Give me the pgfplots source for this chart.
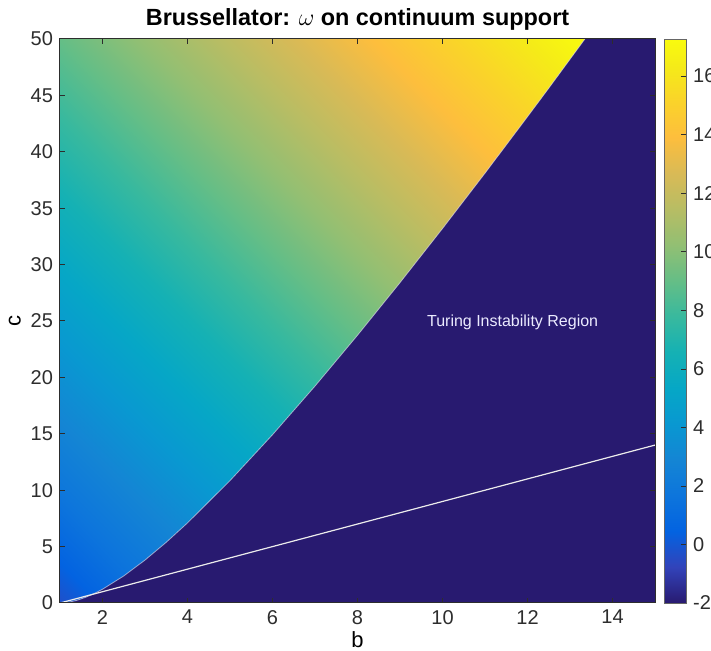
\documentclass[border=0pt]{standalone}
\usepackage{fontspec}
\setmainfont{Liberation Sans}
\usepackage{pgfplots}
\usepackage{pgfplotstable}
\pgfplotsset{compat=1.18}
\definecolor{darkbg}{RGB}{40,26,112}
\definecolor{axgray}{RGB}{45,45,45}

\pgfplotsset{
  colormap={parula}{
    rgb255(0pt)=(40,26,112)
    rgb255(4pt)=(50,67,186)
    rgb255(8pt)=(3,99,225)
    rgb255(12pt)=(13,117,220)
    rgb255(16pt)=(20,133,212)
    rgb255(20pt)=(9,152,209)
    rgb255(24pt)=(6,167,198)
    rgb255(28pt)=(21,177,180)
    rgb255(32pt)=(56,185,158)
    rgb255(36pt)=(101,190,134)
    rgb255(40pt)=(146,191,115)
    rgb255(44pt)=(183,189,100)
    rgb255(48pt)=(217,186,86)
    rgb255(52pt)=(253,190,61)
    rgb255(56pt)=(250,211,42)
    rgb255(60pt)=(245,235,24)
    rgb255(63pt)=(249,251,14)
  }
}

% omega estimated on a grid (b, c, omega)
\pgfplotstableread{
b c w
1 0 -0.3
3 0 1.34
5 0 2.68
7 0 4.02
9 0 5.36
11 0 6.70
13 0 8.04
15 0 9.38
1 10 1.8
3 10 3.14
5 10 4.48
7 10 5.82
9 10 7.16
11 10 8.50
13 10 9.84
15 10 11.18
1 20 3.6
3 20 4.94
5 20 6.28
7 20 7.62
9 20 8.96
11 20 10.30
13 20 11.64
15 20 12.98
1 30 5.4
3 30 6.74
5 30 8.08
7 30 9.42
9 30 10.76
11 30 12.10
13 30 13.44
15 30 14.78
1 40 7.2
3 40 8.54
5 40 9.88
7 40 11.22
9 40 12.56
11 40 13.90
13 40 15.24
15 40 16.58
1 50 9.0
3 50 10.34
5 50 11.68
7 50 13.02
9 50 14.36
11 50 15.70
13 50 17.04
15 50 18.38
}\omegagrid

% Turing boundary (b, c)
\pgfplotstableread{
b c
1 0
1.2 0.065
1.4 0.238
1.6 0.498
1.8 0.829
2 1.218
2.5 2.398
3 3.805
3.5 5.384
4 7.1
5 10.848
6 14.917
7 19.230
8 23.736
9 28.4
10 33.196
11 38.104
12 43.110
12.5 45.64
13 48.203
13.35 50
}\boundary

\begin{document}
\begin{tikzpicture}
\begin{axis}[
  name=ax,
  scale only axis,
  width=297.5pt, height=282pt,
  xmin=1, xmax=15, ymin=0, ymax=50,
  xtick={2,4,...,14}, ytick={0,5,...,50},
  tick align=inside,
  major tick length=2.5pt,
  axis line style={axgray, line width=0.5pt},
  tick style={axgray, line width=0.5pt},
  axis on top,
  colormap name=parula,
  point meta min=-2, point meta max=17.26,
  /pgf/number format/assume math mode=true,
  tick label style={font=\fontsize{10}{12}\selectfont, text=axgray},
  xlabel={b}, ylabel={c},
  label style={font=\fontsize{11}{13}\selectfont},
  xlabel style={yshift=3pt},
  ylabel style={yshift=-2pt},
  title={Brussellator: $\omega$ on continuum support},
  title style={at={(0.5,1)}, anchor=south, yshift=-5pt, font=\fontsize{11.7}{13}\selectfont\bfseries},
  colorbar,
  colorbar style={
    at={(parent axis.north east)}, anchor=north west, xshift=-4pt,
    width=11pt,
    ytick={-2,0,...,16},
    ytick pos=right,
    tick align=inside,
    major tick length=2.5pt,
    axis line style={gray!80!black},
    tick style={axgray},
    /pgf/number format/assume math mode=true,
    yticklabel style={font=\fontsize{10}{12}\selectfont, text=axgray},
  },
]
\addplot[surf, shader=interp, mesh/cols=8, point meta=explicit]
  table[x=b, y=c, meta=w] {\omegagrid};
\addplot[draw=none, fill=darkbg] table[x=b, y=c] {\boundary} -- (axis cs:15,50) -- (axis cs:15,0) -- cycle;
\addplot[white, opacity=0.55, line width=0.4pt] table[x=b, y=c] {\boundary};
\addplot[white!85!gray, line width=0.6pt] coordinates {(1,0) (15,14)};
\node[text=white!92!blue, font=\fontsize{8}{9}\selectfont] at (axis cs:11.65,24.9) {Turing Instability Region};
\end{axis}
\pgfresetboundingbox
\path ([shift={(-30pt,-24pt)}]ax.south west) rectangle ([shift={(28pt,19.5pt)}]ax.north east);
\end{tikzpicture}
\end{document}
